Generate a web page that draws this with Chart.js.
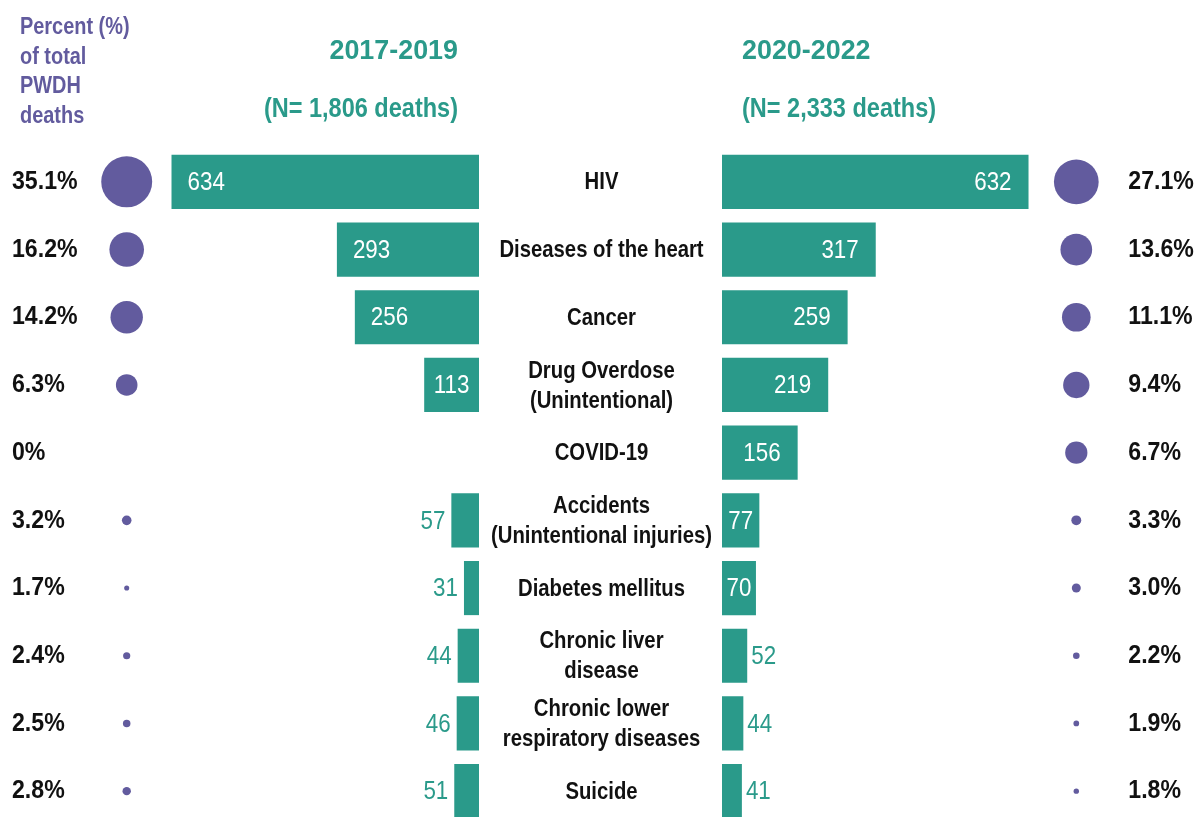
<!DOCTYPE html>
<html><head><meta charset="utf-8">
<script src="https://cdn.jsdelivr.net/npm/chart.js@4.4.1/dist/chart.umd.min.js"></script>
<style>html,body{margin:0;padding:0;background:#fff;overflow:hidden}#wrap{position:relative;width:1195px;height:817px}</style>
</head><body><div id="wrap"><canvas id="c" width="1195" height="817"></canvas></div>
<script>
// ---- data ----
const categories = [['HIV'], ['Diseases of the heart'], ['Cancer'], ['Drug Overdose', '(Unintentional)'], ['COVID-19'],
  ['Accidents', '(Unintentional injuries)'], ['Diabetes mellitus'], ['Chronic liver', 'disease'],
  ['Chronic lower', 'respiratory diseases'], ['Suicide']];
const deaths2017 = [634, 293, 256, 113, 0, 57, 31, 44, 46, 51];
const deaths2020 = [632, 317, 259, 219, 156, 77, 70, 52, 44, 41];
const pct2017 = [35.1, 16.2, 14.2, 6.3, 0, 3.2, 1.7, 2.4, 2.5, 2.8];
const pct2020 = [27.1, 13.6, 11.1, 9.4, 6.7, 3.3, 3.0, 2.2, 1.9, 1.8];
const pctLabels2017 = ['35.1%', '16.2%', '14.2%', '6.3%', '0%', '3.2%', '1.7%', '2.4%', '2.5%', '2.8%'];
const pctLabels2020 = ['27.1%', '13.6%', '11.1%', '9.4%', '6.7%', '3.3%', '3.0%', '2.2%', '1.9%', '1.8%'];
const periods = ['2017-2019', '2020-2022'];
const totals = ['(N= 1,806 deaths)', '(N= 2,333 deaths)'];
const sideTitle = ['Percent (%)', 'of total', 'PWDH', 'deaths'];
const columns = ['pctL', 'barsL', 'cause', 'barsR', 'pctR'];

// ---- layout / style ----
const TEAL = '#2A9A8A', PURPLE = '#625B9E', INK = '#111111';
const FONT = "'Liberation Sans', Arial, sans-serif";
const L = 8, R = 1195, TOP = 148, H = 817, PITCH = 67.7;
const PX = 0.485, ZERO_L = 479, ZERO_R = 722;
const W = R - L, span = W / PX;
const xLmax = (ZERO_L - L) / PX, xLmin = xLmax - span;
const xRmin = -(ZERO_R - L) / PX, xRmax = xRmin + span;
const yMax = -0.5 + (H - TOP) / PITCH;
const radius = p => p <= 0 ? 0 : (p >= 5 ? 4.3 * Math.sqrt(p) : 1.5 * p);

// draw horizontally condensed text (narrow face emulation)
function txt(ctx, t, x, y, sx) {
  ctx.save(); ctx.translate(x, y); ctx.scale(sx, 1); ctx.fillText(t, 0, 0); ctx.restore();
}

const textPlugin = {
  id: 'texts',
  afterDatasetsDraw(chart) {
    const ctx = chart.ctx, ys = chart.scales.y, xB = chart.scales.xB;
    const zl = chart.scales.xL.getPixelForValue(0), zr = chart.scales.xR.getPixelForValue(0);
    ctx.save();
    // headers
    ctx.fillStyle = TEAL; ctx.font = 'bold 28px ' + FONT; ctx.textBaseline = 'alphabetic';
    ctx.textAlign = 'right';
    txt(ctx, periods[0], zl - 21, 59, 0.96); txt(ctx, totals[0], zl - 21, 117, 0.84);
    ctx.textAlign = 'left';
    txt(ctx, periods[1], zr + 20, 59, 0.96); txt(ctx, totals[1], zr + 20, 117, 0.84);
    // side title
    ctx.fillStyle = PURPLE; ctx.font = 'bold 24px ' + FONT;
    sideTitle.forEach((t, i) => txt(ctx, t, 20, 34 + i * 29.5, 0.83));
    // category labels
    ctx.fillStyle = INK; ctx.font = 'bold 24px ' + FONT; ctx.textAlign = 'center'; ctx.textBaseline = 'middle';
    const cx = xB.getPixelForValue(2);
    categories.forEach((lines, i) => {
      const yc = ys.getPixelForValue(i);
      lines.forEach((t, j) => txt(ctx, t, cx, yc + 1 + (j - (lines.length - 1) / 2) * 30, 0.846));
    });
    // percent labels
    ctx.font = 'bold 26px ' + FONT; ctx.textAlign = 'left';
    const rx = xB.getPixelForValue(4) + 52;
    pctLabels2017.forEach((t, i) => txt(ctx, t, 12, ys.getPixelForValue(i), 0.89));
    pctLabels2020.forEach((t, i) => txt(ctx, t, rx, ys.getPixelForValue(i), 0.89));
    // value labels
    const SX = 0.86;
    ctx.font = '500 26px ' + FONT;
    const metaL = chart.getDatasetMeta(0), metaR = chart.getDatasetMeta(1);
    deaths2017.forEach((v, i) => {
      if (!v) return;
      const el = metaL.data[i], t = String(v), tw = ctx.measureText(t).width * SX;
      const left = Math.min(el.x, el.base), bw = Math.abs(el.base - el.x);
      if (bw >= tw + 6) {
        ctx.fillStyle = '#fff'; ctx.textAlign = 'left';
        txt(ctx, t, left + Math.min(16, (bw - tw) / 2), el.y + 1, SX);
      } else {
        ctx.fillStyle = TEAL; ctx.textAlign = 'right';
        txt(ctx, t, left - 6, el.y + 1, SX);
      }
    });
    deaths2020.forEach((v, i) => {
      if (!v) return;
      const el = metaR.data[i], t = String(v), tw = ctx.measureText(t).width * SX;
      const right = Math.max(el.x, el.base), bw = Math.abs(el.x - el.base);
      if (bw >= tw + 6) {
        ctx.fillStyle = '#fff'; ctx.textAlign = 'right';
        txt(ctx, t, right - Math.min(17, (bw - tw) / 2), el.y + 1, SX);
      } else {
        ctx.fillStyle = TEAL; ctx.textAlign = 'left';
        txt(ctx, t, right + 4, el.y + 1, SX);
      }
    });
    ctx.restore();
  }
};

const barOpts = { backgroundColor: TEAL, borderWidth: 0, barPercentage: 0.8, categoryPercentage: 1, grouped: false, indexAxis: 'y', yAxisID: 'y' };

new Chart(document.getElementById('c'), {
  type: 'bar',
  data: {
    datasets: [
      Object.assign({ label: periods[0], data: deaths2017.map((v, i) => ({ x: v, y: i })), xAxisID: 'xL' }, barOpts),
      Object.assign({ label: periods[1], data: deaths2020.map((v, i) => ({ x: v, y: i })), xAxisID: 'xR' }, barOpts),
      { type: 'bubble', label: 'pct ' + periods[0], xAxisID: 'xB', yAxisID: 'y', backgroundColor: PURPLE, borderWidth: 0,
        data: pct2017.map((p, i) => ({ x: columns[0], y: i, r: radius(p) })) },
      { type: 'bubble', label: 'pct ' + periods[1], xAxisID: 'xB', yAxisID: 'y', backgroundColor: PURPLE, borderWidth: 0,
        data: pct2020.map((p, i) => ({ x: columns[4], y: i, r: radius(p) })) }
    ]
  },
  options: {
    responsive: false, animation: false, events: [],
    layout: { autoPadding: false, padding: { left: L, right: 1195 - R, top: TOP, bottom: 0 } },
    plugins: { legend: { display: false }, tooltip: { enabled: false } },
    scales: {
      xL: { type: 'linear', axis: 'x', position: 'bottom', reverse: true, min: xLmin, max: xLmax, offset: false, grace: 0, display: false },
      xR: { type: 'linear', axis: 'x', position: 'bottom', min: xRmin, max: xRmax, offset: false, grace: 0, display: false },
      xB: { type: 'category', axis: 'x', position: 'bottom', labels: columns, offset: true, display: false },
      y: { type: 'linear', axis: 'y', position: 'left', reverse: true, min: -0.5, max: yMax, offset: false, grace: 0, display: false,
           afterBuildTicks: s => { s.ticks = categories.map((c, i) => ({ value: i })); } }
    }
  },
  plugins: [textPlugin]
});
</script></body></html>
